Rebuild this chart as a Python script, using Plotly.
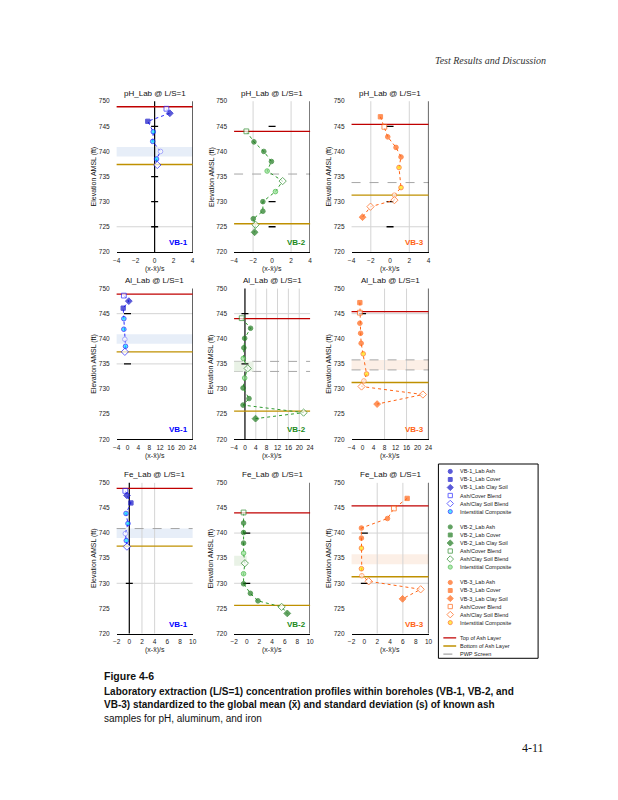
import plotly.graph_objects as go

# ---------------- data ----------------
ELEV_TICKS = [720, 725, 730, 735, 740, 745, 750]
ELEV_RANGE = [720, 750]
PARAM_TITLES = ["pH_Lab @ L/S=1", "Al_Lab @ L/S=1", "Fe_Lab @ L/S=1"]
BOREHOLES = ["VB-1", "VB-2", "VB-3"]
X_TICKS_PH = [-4, -2, 0, 2, 4]
X_TICKS_AL = [-4, 0, 4, 8, 12, 16, 20, 24]
X_TICKS_FE = [-2, 0, 2, 4, 6, 8, 10]

# sample types top -> bottom for each borehole
VB1_TYPES = ["acb", "clay", "cover", "int", "int", "ocl", "int", "asb"]
VB2_TYPES = ["acb", "ash", "ash", "ash", "int", "asb", "int", "ash", "ash", "ash", "asb", "clay"]
VB3_TYPES = ["cover", "acb", "ash", "ash", "ash", "int", "int", "ocl", "asb", "asb", "clay"]

# pH
PH_VB1_ELEV = [748.5, 747.6, 746.0, 743.9, 742.0, 740.0, 738.5, 737.3]
PH_VB1_Z = [1.24, 1.6, -0.72, -0.14, -0.2, 0.62, 0.2, 0.28]
PH_VB2_ELEV = [744.0, 741.9, 740.0, 738.0, 736.1, 734.1, 732.0, 730.0, 728.1, 726.6, 725.4, 723.9]
PH_VB2_Z = [-2.71, -1.91, -0.87, -0.07, -0.52, 1.11, 0.35, -0.97, -0.97, -1.98, -1.74, -1.84]
PH_VB3_ELEV = [746.9, 744.9, 742.9, 740.8, 738.9, 736.8, 732.8, 731.3, 730.3, 729.0, 726.9]
PH_VB3_Z = [-1.0, -0.59, -0.24, 0.62, 1.14, 0.93, 1.14, 0.45, 0.45, -2.03, -2.86]

# Al
AL_VB1_ELEV = [748.6, 747.5, 746.1, 744.0, 741.9, 739.9, 738.5, 737.4]
AL_VB1_Z = [-1.34, 0.49, -1.58, -1.34, -1.34, -0.97, -0.73, -0.97]
AL_VB2_ELEV = [744.1, 742.1, 740.1, 738.2, 736.1, 734.1, 732.2, 730.2, 728.1, 726.8, 725.3, 724.1]
AL_VB2_Z = [-1.2, 2.07, -0.1, -0.4, -0.6, 1.0, -0.1, -0.7, 1.5, -0.7, 21.6, 3.9]
AL_VB3_ELEV = [747.2, 745.2, 743.1, 741.1, 739.1, 737.0, 733.0, 731.6, 730.5, 728.9, 727.0]
AL_VB3_Z = [-0.97, -0.97, -0.97, -0.7, -0.5, 0.24, 1.45, 0.5, -0.36, 21.95, 5.3]

# Fe
FE_VB1_ELEV = [748.4, 747.5, 746.0, 743.9, 741.9, 739.9, 738.5, 737.3]
FE_VB1_Z = [-0.63, -0.37, 0.26, -0.52, -0.21, -0.63, -0.47, -0.37]
FE_VB2_ELEV = [744.1, 742.0, 740.1, 738.0, 736.0, 734.0, 731.9, 729.9, 728.0, 726.5, 725.3, 724.0]
FE_VB2_Z = [-0.5, -0.5, -0.5, -0.5, -0.5, -0.3, -0.5, -0.5, 0.57, 1.77, 5.5, 6.4]
FE_VB3_ELEV = [746.9, 744.9, 742.9, 741.0, 739.0, 737.0, 732.9, 731.5, 730.4, 728.8, 726.9]
FE_VB3_Z = [6.67, 4.6, 3.6, -0.46, -0.46, -0.46, -0.46, -0.4, 0.67, 8.77, 5.95]

# layer elevations per borehole
TOP_OF_ASH = [748.9, 744.0, 745.4]
BOTTOM_OF_ASH = [737.4, 725.6, 731.3]
PWP_SCREEN_TOP = [740.9, 735.5, 735.8]
PWP_SCREEN_BOTTOM = [739.0, 733.5, 733.8]

# short reference marks at z = 0 (per panel)
MARK_ELEV = [
    [745, 735, 730, 725], [745, 730, 725], [745, 730, 725],
    [745, 735], [745, 735], [745],
    [730], [740, 730], [740, 730],
]

LEGEND_LABELS = [
    "VB-1_Lab Ash", "VB-1_Lab Cover", "VB-1_Lab Clay Soil", "Ash/Cover Blend", "Ash/Clay Soil Blend", "Interstitial Composite",
    "VB-2_Lab Ash", "VB-2_Lab Cover", "VB-2_Lab Clay Soil", "Ash/Cover Blend", "Ash/Clay Soil Blend", "Interstitial Composite",
    "VB-3_Lab Ash", "VB-3_Lab Cover", "VB-3_Lab Clay Soil", "Ash/Cover Blend", "Ash/Clay Soil Blend", "Interstitial Composite",
    "Top of Ash Layer", "Bottom of Ash Layer", "PWP Screen",
]
LEGEND_TYPES = ["ash", "cover", "clay", "acb", "asb", "int"]

# ---------------- styling ----------------
FONT = "Liberation Sans"
W, H = 618, 800
COL_PX = [(106, 183), (225, 302), (344, 422)]
ROW_PX = [(90, 242), (279, 431), (475, 627)]
RED = "#c00000"
GOLD = "#bf9000"
DASHGRAY = "#a6a6a6"
GRID = "#d4d4d4"

BH_STYLE = [
    dict(dark="#1414c8", line="#2a2aff", open="#2a2aff", intfill="#00dcff", intedge="#1a1aff", ocl="#8c8cff", band="#e7eef8", label="#0000ff"),
    dict(dark="#1e7a1e", line="#2e9a2e", open="#2e8b2e", intfill="#8fe08f", intedge="#3cb33c", ocl="#5fc35f", band="#e9f2e6", label="#1a8a1a"),
    dict(dark="#ff6414", line="#ff6414", open="#ff6414", intfill="#ffe600", intedge="#ff6414", ocl="#ff8c4a", band="#fcefe6", label="#ff6414"),
]


def marker_style(b, t):
    s = BH_STYLE[b]
    if t == "ash":
        return "circle", 4.6, s["dark"], s["dark"]
    if t == "cover":
        return "square", 4.3, s["dark"], s["dark"]
    if t == "clay":
        return "diamond", 5.2, s["dark"], s["dark"]
    if t == "acb":
        return "square", 4.8, "white", s["open"]
    if t == "asb":
        return "diamond", 5.6, "white", s["open"]
    if t == "int":
        return "circle", 4.6, s["intfill"], s["intedge"]
    return "circle", 4.6, "white", s["ocl"]


PANELS = [
    (PH_VB1_Z, PH_VB1_ELEV, VB1_TYPES), (PH_VB2_Z, PH_VB2_ELEV, VB2_TYPES), (PH_VB3_Z, PH_VB3_ELEV, VB3_TYPES),
    (AL_VB1_Z, AL_VB1_ELEV, VB1_TYPES), (AL_VB2_Z, AL_VB2_ELEV, VB2_TYPES), (AL_VB3_Z, AL_VB3_ELEV, VB3_TYPES),
    (FE_VB1_Z, FE_VB1_ELEV, VB1_TYPES), (FE_VB2_Z, FE_VB2_ELEV, VB2_TYPES), (FE_VB3_Z, FE_VB3_ELEV, VB3_TYPES),
]
ROW_XTICKS = [X_TICKS_PH, X_TICKS_AL, X_TICKS_FE]

# per-panel cosmetic options
GRAY_H = [[725], [], [725], [745, 735], [745], [745], [730], [740, 730], [740, 730]]
GRAY_V = [[], [-2, 2], [-2, 2], [], [4, 8, 12, 16, 20], [8, 16], [2, 4], [], [2, 6]]
BLACK_V = [[0, 4], [4], [4], [24], [0], [24], [0], [10], [10]]
SHOW_BAND = [True, False, False, True, True, True, True, True, True]
BAND_XEND = [None, None, None, None, 3.2, None, None, 0, None]
DASHES = [[], ["top"], ["bottom"], [], ["top", "bottom"], ["top", "bottom"], ["top"], [], []]


def py(y):
    return 1 - y / H


def px(x):
    return x / W


fig = go.Figure()
layout = dict(
    width=W, height=H, margin=dict(l=0, r=0, t=0, b=0),
    paper_bgcolor="white", plot_bgcolor="rgba(0,0,0,0)", showlegend=False,
    font=dict(family=FONT, color="#222222"),
)
shapes = []
annotations = []

for k in range(9):
    r, c = divmod(k, 3)
    n = "" if k == 0 else str(k + 1)
    xa, ya = "x" + n, "y" + n
    xt = ROW_XTICKS[r]
    xr = [xt[0], xt[-1]]
    layout["xaxis" + n] = dict(
        domain=[px(COL_PX[c][0]), px(COL_PX[c][1])], range=xr, tickvals=xt,
        showgrid=False, zeroline=False, showline=True, linecolor="black", linewidth=1,
        ticks="", ticklabelstandoff=2,
        tickfont=dict(size=6.5, family=FONT, color="#222"), anchor=ya, fixedrange=True,
    )
    layout["yaxis" + n] = dict(
        domain=[py(ROW_PX[r][1]), py(ROW_PX[r][0])], range=ELEV_RANGE, tickvals=ELEV_TICKS,
        showgrid=False, zeroline=False, showline=False, ticks="",
        ticklabelstandoff=6,
        tickfont=dict(size=6.5, family=FONT, color="#222"), anchor=xa, fixedrange=True,
    )
    s = BH_STYLE[c]
    # PWP band
    if SHOW_BAND[k]:
        if BAND_XEND[k] is None:
            shapes.append(dict(type="rect", xref=xa + " domain", yref=ya, x0=0, x1=1,
                               y0=PWP_SCREEN_BOTTOM[c], y1=PWP_SCREEN_TOP[c],
                               fillcolor=s["band"], line=dict(width=0), layer="below"))
        else:
            shapes.append(dict(type="rect", xref=xa, yref=ya, x0=xr[0], x1=BAND_XEND[k],
                               y0=PWP_SCREEN_BOTTOM[c], y1=PWP_SCREEN_TOP[c],
                               fillcolor=s["band"], line=dict(width=0), layer="below"))
    for gx in GRAY_V[k]:
        shapes.append(dict(type="line", xref=xa, yref=ya + " domain", x0=gx, x1=gx, y0=0, y1=1,
                           line=dict(color=GRID, width=1), layer="below"))
    for gy in GRAY_H[k]:
        shapes.append(dict(type="line", xref=xa + " domain", yref=ya, x0=0, x1=1, y0=gy, y1=gy,
                           line=dict(color=GRID, width=1), layer="below"))
    for which in DASHES[k]:
        yv = PWP_SCREEN_TOP[c] if which == "top" else PWP_SCREEN_BOTTOM[c]
        shapes.append(dict(type="line", xref=xa + " domain", yref=ya, x0=0, x1=1, y0=yv, y1=yv,
                           line=dict(color=DASHGRAY, width=1, dash="dash"), layer="below"))
    for bx in BLACK_V[k]:
        shapes.append(dict(type="line", xref=xa, yref=ya + " domain", x0=bx, x1=bx, y0=0, y1=1,
                           line=dict(color="black", width=1.2), layer="below"))
    shapes.append(dict(type="line", xref=xa + " domain", yref=ya, x0=0, x1=1,
                       y0=TOP_OF_ASH[c], y1=TOP_OF_ASH[c], line=dict(color=RED, width=1.3), layer="below"))
    shapes.append(dict(type="line", xref=xa + " domain", yref=ya, x0=0, x1=1,
                       y0=BOTTOM_OF_ASH[c], y1=BOTTOM_OF_ASH[c], line=dict(color=GOLD, width=1.3), layer="below"))

    zs, els, types = PANELS[k]
    marks = MARK_ELEV[k]
    fig.add_trace(go.Scatter(x=[0] * len(marks), y=marks, mode="markers", xaxis=xa, yaxis=ya,
                             marker=dict(symbol="line-ew", size=5, line=dict(color="black", width=1.3)),
                             hoverinfo="skip"))
    fig.add_trace(go.Scatter(x=zs, y=els, mode="lines", xaxis=xa, yaxis=ya,
                             line=dict(color=s["line"], width=1, dash="dot"), hoverinfo="skip"))
    st = [marker_style(c, t) for t in types]
    fig.add_trace(go.Scatter(
        x=zs, y=els, mode="markers", xaxis=xa, yaxis=ya,
        marker=dict(symbol=[a[0] for a in st], size=[a[1] for a in st],
                    color=[a[2] for a in st], line=dict(color=[a[3] for a in st], width=1)),
        cliponaxis=False))

    xc = (COL_PX[c][0] + COL_PX[c][1]) / 2
    annotations.append(dict(text=PARAM_TITLES[r], xref="paper", yref="paper", x=px(xc),
                            y=py(ROW_PX[r][0] - 8), showarrow=False, xanchor="center", yanchor="middle",
                            font=dict(size=8, family=FONT, color="#111")))
    annotations.append(dict(text="(x-x\u0304)/s", xref="paper", yref="paper", x=px(xc),
                            y=py(ROW_PX[r][1] + 17), showarrow=False, xanchor="center", yanchor="middle",
                            font=dict(size=7, family=FONT, color="#222")))
    annotations.append(dict(text="Elevation AMSL (ft)", xref="paper", yref="paper",
                            x=px(COL_PX[c][0] - 23), y=py((ROW_PX[r][0] + ROW_PX[r][1]) / 2),
                            textangle=-90, showarrow=False, xanchor="center", yanchor="middle",
                            font=dict(size=7, family=FONT, color="#111")))
    annotations.append(dict(text="<b>" + BOREHOLES[c] + "</b>", xref=xa + " domain", yref=ya + " domain",
                            x=0.97, y=0.02, showarrow=False, xanchor="right", yanchor="bottom",
                            font=dict(size=8, family=FONT, color=s["label"])))

# ---------------- legend (drawn manually) ----------------
LX0, LX1, LY0, LY1 = 432, 533, 456, 652
layout["xaxis10"] = dict(domain=[px(LX0), px(LX1)], range=[LX0, LX1], visible=False, anchor="y10", fixedrange=True)
layout["yaxis10"] = dict(domain=[py(LY1), py(LY0)], range=[LY1, LY0], visible=False, anchor="x10", fixedrange=True)
shapes.append(dict(type="rect", xref="paper", yref="paper", x0=px(LX0), x1=px(LX1), y0=py(LY1), y1=py(LY0),
                   line=dict(color="black", width=1), fillcolor="white", layer="below"))

leg_y = []
for i in range(len(LEGEND_LABELS)):
    grp = min(i // 6, 3)
    leg_y.append(463.5 + 8.1 * i + 7.4 * grp)

mx, my, msym, msz, mcol, medge = [], [], [], [], [], []
for i in range(18):
    b, t = divmod(i, 6)
    sym, sz, fill, edge = marker_style(b, LEGEND_TYPES[t])
    mx.append(444)
    my.append(leg_y[i])
    msym.append(sym)
    msz.append(sz * 0.9)
    mcol.append(fill)
    medge.append(edge)
fig.add_trace(go.Scatter(x=mx, y=my, mode="markers", xaxis="x10", yaxis="y10",
                         marker=dict(symbol=msym, size=msz, color=mcol, line=dict(color=medge, width=1)),
                         hoverinfo="skip"))
for j, (col, dash) in enumerate([(RED, "solid"), (GOLD, "solid"), (DASHGRAY, "dash")]):
    yy = leg_y[18 + j]
    fig.add_trace(go.Scatter(x=[437, 450], y=[yy, yy], mode="lines", xaxis="x10", yaxis="y10",
                             line=dict(color=col, width=1.3, dash=dash), hoverinfo="skip"))
for i, lab in enumerate(LEGEND_LABELS):
    annotations.append(dict(text=lab, xref="x10", yref="y10", x=452, y=leg_y[i], showarrow=False,
                            xanchor="left", yanchor="middle", font=dict(size=5.5, family=FONT, color="#222")))

# ---------------- page text ----------------
annotations.append(dict(text="<i>Test Results and Discussion</i>", xref="paper", yref="paper",
                        x=px(543), y=py(49), xanchor="right", yanchor="middle", showarrow=False,
                        font=dict(size=10, family="Liberation Serif", color="#333")))
annotations.append(dict(text="<b>Figure 4-6</b>", xref="paper", yref="paper", x=px(91), y=py(670),
                        xanchor="left", yanchor="middle", showarrow=False,
                        font=dict(size=10.5, family=FONT, color="#111")))
CAPTION = [
    ("<b>Laboratory extraction (L/S=1) concentration profiles within boreholes (VB-1, VB-2, and</b>", 685),
    ("<b>VB-3) standardized to the global mean (x\u0304) and standard deviation (s) of known ash</b>", 699),
    ("samples for pH, aluminum, and iron", 713),
]
for txt, yy in CAPTION:
    annotations.append(dict(text=txt, xref="paper", yref="paper", x=px(91), y=py(yy),
                            xanchor="left", yanchor="middle", showarrow=False,
                            font=dict(size=10, family=FONT, color="#111")))
annotations.append(dict(text="4-11", xref="paper", yref="paper", x=px(541), y=py(743),
                        xanchor="right", yanchor="middle", showarrow=False,
                        font=dict(size=12, family="Liberation Serif", color="#111")))

layout["shapes"] = shapes
layout["annotations"] = annotations
fig.update_layout(**layout)
fig.write_html("out.html")
